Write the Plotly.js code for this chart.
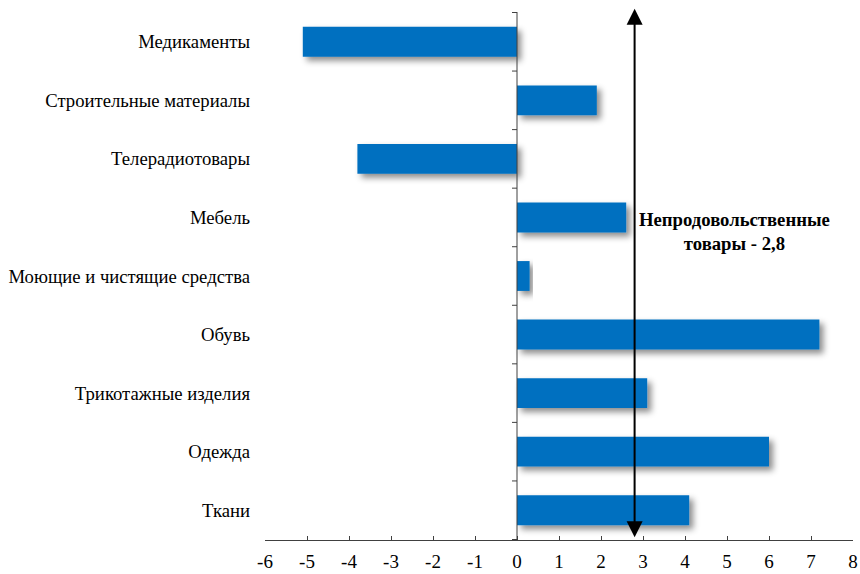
<!DOCTYPE html>
<html>
<head>
<meta charset="utf-8">
<script src="https://cdn.plot.ly/plotly-3.0.1.min.js"></script>
<style>
html,body{margin:0;padding:0;background:#fff;}
#chart .trace.bars g.point path{filter:url(#barshadow);}
</style>
</head>
<body>
<svg width="0" height="0" style="position:absolute">
  <defs>
    <filter id="barshadow" x="-10%" y="-40%" width="130%" height="200%">
      <feDropShadow dx="4" dy="4" stdDeviation="3" flood-color="#000" flood-opacity="0.45"/>
    </filter>
  </defs>
</svg>
<div id="chart" style="width:860px;height:574px;"></div>
<script>
var categories = ["Медикаменты","Строительные материалы","Телерадиотовары","Мебель","Моющие и чистящие средства","Обувь","Трикотажные изделия","Одежда","Ткани"];
var values = [-5.1, 1.9, -3.8, 2.6, 0.3, 7.2, 3.1, 6.0, 4.1];
var xTicks = [-6,-5,-4,-3,-2,-1,0,1,2,3,4,5,6,7,8];
var totalValue = 2.8;
var totalLabel = "Непродовольственные<br>товары - 2,8";

var font = "'Liberation Serif', serif";

var shapes = [{
  type:'line', xref:'x', yref:'paper', x0:0, x1:0, y0:0, y1:1,
  line:{color:'#404040', width:1}
}];
for (var i = 0; i <= categories.length; i++) {
  shapes.push({
    type:'line', xref:'x', yref:'y', xsizemode:'pixel', xanchor:0,
    x0:-5, x1:0, y0:i-0.5, y1:i-0.5,
    line:{color:'#404040', width:1}
  });
}

var data = [{
  type:'bar', orientation:'h',
  y: categories, x: values,
  marker:{color:'#0070C0', line:{width:0}},
  width:0.51,
  hoverinfo:'none'
}];

var layout = {
  width:860, height:574,
  margin:{l:265, r:7, t:12, b:34},
  paper_bgcolor:'#fff', plot_bgcolor:'#fff',
  showlegend:false,
  font:{family:font, color:'#000'},
  xaxis:{
    range:[-6,8], tickvals:xTicks, ticktext:xTicks.map(String),
    showgrid:false, zeroline:false,
    showline:true, linecolor:'#404040', linewidth:1,
    ticks:'inside', ticklen:4, tickcolor:'#404040',
    ticklabelstandoff:4,
    tickfont:{family:font, size:19, color:'#000'},
    fixedrange:true
  },
  yaxis:{
    type:'category', autorange:'reversed',
    showgrid:false, zeroline:false, showline:false, ticks:'',
    ticklabelstandoff:14,
    tickfont:{family:font, size:18.7, color:'#000'},
    fixedrange:true
  },
  shapes: shapes,
  annotations:[{
    xref:'x', yref:'paper', x:totalValue, y:1.006,
    axref:'pixel', ayref:'pixel', ax:0, ay:530,
    text:'', showarrow:true, arrowside:'end+start',
    arrowhead:2, startarrowhead:2, arrowsize:1.6, startarrowsize:1.6, arrowwidth:2,
    arrowcolor:'#000', standoff:0, startstandoff:0
  },{
    xref:'paper', yref:'paper', x:0.799, y:0.585, xanchor:'center', yanchor:'middle',
    text:totalLabel, showarrow:false, align:'center',
    font:{family:font, size:18.7, color:'#000', weight:'bold'}
  }]
};

Plotly.newPlot('chart', data, layout, {displayModeBar:false, staticPlot:true});
</script>
</body>
</html>
